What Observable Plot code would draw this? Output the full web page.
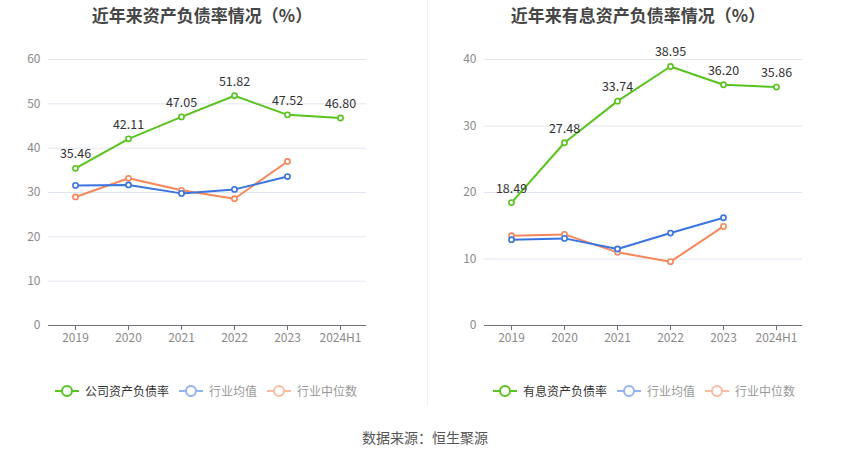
<!DOCTYPE html>
<html>
<head>
<meta charset="utf-8">
<script src="https://cdn.jsdelivr.net/npm/d3@7"></script>
<script src="https://cdn.jsdelivr.net/npm/@observablehq/plot@0.6"></script>
<style>
  html, body { margin: 0; padding: 0; background: #fff; }
  body { font-family: "Noto Sans CJK SC", "Noto Sans", sans-serif; }
  #wrap { position: relative; width: 850px; height: 459px; overflow: hidden; }
  .title { position: absolute; top: 2px; font-size: 17px; font-weight: bold; color: #464646; white-space: nowrap; transform: translateX(-50%); }
  .chart { position: absolute; top: 0; }
  .legend { position: absolute; top: 382px; display: flex; align-items: center; font-size: 12px; white-space: nowrap; }
  .legend .item { display: flex; align-items: center; margin-right: 10px; }
  .legend svg { margin-right: 6px; }
  #divider { position: absolute; left: 427px; top: 0; width: 1px; height: 406px; background: #f0f0f0; }
  #caption { position: absolute; top: 427px; left: 425px; transform: translateX(-50%); font-size: 14px; color: #555; white-space: nowrap; }
</style>
</head>
<body>
<div id="wrap">
  <div id="divider"></div>
  <div class="title" style="left:202px">近年来资产负债率情况（%）</div>
  <div class="title" style="left:638px">近年来有息资产负债率情况（%）</div>
  <div class="chart" id="c1" style="left:0px"></div>
  <div class="chart" id="c2" style="left:427px"></div>
  <div class="legend" id="l1" style="left:55px"></div>
  <div class="legend" id="l2" style="left:493px"></div>
  <div id="caption">数据来源：恒生聚源</div>
</div>
<script>
const years = ["2019", "2020", "2021", "2022", "2023", "2024H1"];
const industryYears = ["2019", "2020", "2021", "2022", "2023"];

// Left chart: 资产负债率
const companyDebt = [35.46, 42.11, 47.05, 51.82, 47.52, 46.80];
const industryAvgDebt = [31.6, 31.7, 29.8, 30.7, 33.6];
const industryMedDebt = [29.0, 33.2, 30.5, 28.6, 37.0];
const leftTicks = [0, 10, 20, 30, 40, 50, 60];

// Right chart: 有息资产负债率
const companyIB = [18.49, 27.48, 33.74, 38.95, 36.20, 35.86];
const industryAvgIB = [12.9, 13.1, 11.5, 13.9, 16.2];
const industryMedIB = [13.5, 13.7, 11.0, 9.6, 14.9];
const rightTicks = [0, 10, 20, 30, 40];

const GREEN = "#58c31f", BLUE = "#3a74e0", ORANGE = "#f5875a";
const BLUE_L = "#93b3f2", ORANGE_L = "#f9bca3";

function build(el, width, ml, mr, company, avg, med, ticks) {
  const comp = years.map((x, i) => ({x, v: company[i]}));
  const a = industryYears.map((x, i) => ({x, v: avg[i]}));
  const m = industryYears.map((x, i) => ({x, v: med[i]}));
  const series = (d, c) => [
    Plot.line(d, {x: "x", y: "v", stroke: c, strokeWidth: 2}),
    Plot.dot(d, {x: "x", y: "v", r: 2.6, stroke: c, strokeWidth: 1.6, fill: "#fff"})
  ];
  const p = Plot.plot({
    width, height: 360,
    marginLeft: ml, marginRight: mr, marginTop: 59, marginBottom: 35,
    style: {fontFamily: '"Noto Sans CJK SC", "Noto Sans", sans-serif', fontSize: "12px", background: "transparent"},
    x: {type: "point", domain: years, padding: 0.5, label: null},
    y: {domain: [ticks[0], ticks[ticks.length - 1]], label: null},
    marks: [
      Plot.gridY(ticks.slice(1), {stroke: "#e0e6f1", strokeOpacity: 1}),
      Plot.axisY(ticks, {tickSize: 0, tickPadding: 8, fill: "#8a8a8a", label: null}),
      Plot.ruleY([0], {stroke: "#6e7079", strokeWidth: 1.2}),
      Plot.axisX({tickSize: 5, tickPadding: 3, stroke: "#6e7079", fill: "#8a8a8a", label: null}),
      ...series(m, ORANGE),
      ...series(a, BLUE),
      ...series(comp, GREEN),
      Plot.text(comp, {x: "x", y: "v", text: d => d.v.toFixed(2), dy: -14, fill: "#333", fontSize: 12.5})
    ]
  });
  document.getElementById(el).appendChild(p);
}

build("c1", 427, 48, 61, companyDebt, industryAvgDebt, industryMedDebt, leftTicks);
build("c2", 423, 57, 48, companyIB, industryAvgIB, industryMedIB, rightTicks);

function legend(el, items) {
  const box = document.getElementById(el);
  for (const [label, color, textColor] of items) {
    const it = document.createElement("div");
    it.className = "item";
    it.innerHTML = `<svg width="24" height="14"><line x1="0" y1="7" x2="24" y2="7" stroke="${color}" stroke-width="2"/><circle cx="12" cy="7" r="5" fill="#fff" stroke="${color}" stroke-width="2"/></svg><span style="color:${textColor}">${label}</span>`;
    box.appendChild(it);
  }
}
legend("l1", [["公司资产负债率", GREEN, "#333"], ["行业均值", BLUE_L, "#999"], ["行业中位数", ORANGE_L, "#999"]]);
legend("l2", [["有息资产负债率", GREEN, "#333"], ["行业均值", BLUE_L, "#999"], ["行业中位数", ORANGE_L, "#999"]]);
</script>
</body>
</html>
